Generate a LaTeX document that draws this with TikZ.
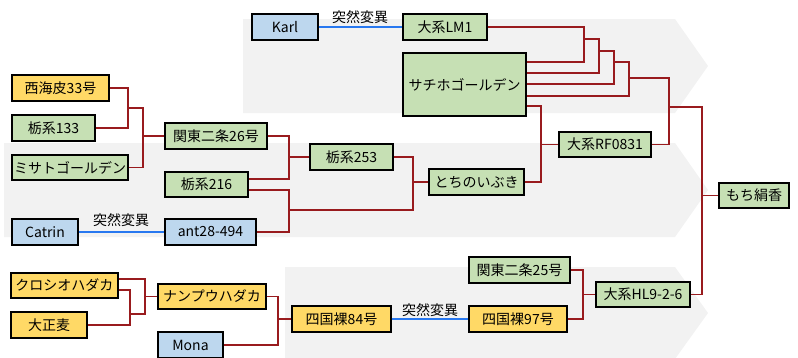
\documentclass[tikz,border=0pt]{standalone}
\usepackage{fontspec}
\setmainfont{Noto Sans CJK JP}
\definecolor{gfill}{HTML}{C6E0B4}
\definecolor{yfill}{HTML}{FFD966}
\definecolor{bfill}{HTML}{BDD7EE}
\definecolor{bgray}{HTML}{F2F2F2}
\definecolor{linered}{RGB}{153,27,30}
\definecolor{mutblue}{RGB}{40,120,240}
\tikzset{
  box/.style={draw=black, line width=1.1pt, inner sep=0pt, align=center,
    font=\fontsize{14}{16}\selectfont},
  gbox/.style={box, fill=gfill},
  ybox/.style={box, fill=yfill},
  bbox/.style={box, fill=bfill},
  conn/.style={draw=linered, line width=1.3pt},
  mut/.style={draw=mutblue, line width=1.2pt},
  lbl/.style={inner sep=0pt, font=\fontsize{14}{16}\selectfont},
  chev/.style={fill=bgray, draw=none}
}
\begin{document}
\begin{tikzpicture}[x=1pt,y=-1pt]
\useasboundingbox (0,0) rectangle (798,357);
% background chevrons
\fill[chev] (243,19) -- (675,19) -- (708,66) -- (675,113) -- (243,113) -- cycle;
\fill[chev] (4,143) -- (675,143) -- (708,190) -- (675,237) -- (4,237) -- cycle;
\fill[chev] (285,267) -- (675,267) -- (708,313) -- (675,359) -- (285,359) -- cycle;

% nodes
\node[bbox, minimum width=66pt, minimum height=26pt] (karl) at (285,27) {Karl};
\node[gbox, minimum width=84pt, minimum height=26pt] (lm1) at (445,27) {大系LM1};
\node[gbox, minimum width=123pt, minimum height=63pt] (sachiho) at (464.5,84.5) {サチホゴールデン};
\node[ybox, minimum width=97pt, minimum height=26pt] (nishi) at (60.5,88) {西海皮33号};
\node[gbox, minimum width=83pt, minimum height=26pt] (tochi133) at (53.5,128) {栃系133};
\node[gbox, minimum width=116pt, minimum height=25pt] (misato) at (70,167.5) {ミサトゴールデン};
\node[gbox, minimum width=102pt, minimum height=26pt] (kanto26) at (216,136) {関東二条26号};
\node[gbox, minimum width=83pt, minimum height=25pt] (tochi216) at (206.5,184.5) {栃系216};
\node[bbox, minimum width=66pt, minimum height=26pt] (catrin) at (45,232) {Catrin};
\node[bbox, minimum width=91pt, minimum height=26pt] (ant) at (210.5,232) {ant28-494};
\node[gbox, minimum width=83pt, minimum height=26pt] (tochi253) at (351.5,157) {栃系253};
\node[gbox, minimum width=95pt, minimum height=26pt] (tochinoibuki) at (476.5,182) {とちのいぶき};
\node[gbox, minimum width=92pt, minimum height=25pt] (rf0831) at (605,144.5) {大系RF0831};
\node[gbox, minimum width=70pt, minimum height=25pt] (mochi) at (754,195.5) {もち絹香};
\node[gbox, minimum width=94pt, minimum height=25pt] (hl926) at (643,294.5) {大系HL9-2-6};
\node[gbox, minimum width=101pt, minimum height=26pt] (kanto25) at (519.5,270) {関東二条25号};
\node[ybox, minimum width=98pt, minimum height=26pt] (shikoku97) at (518,319) {四国裸97号};
\node[ybox, minimum width=99pt, minimum height=26pt] (shikoku84) at (341.5,319) {四国裸84号};
\node[ybox, minimum width=107pt, minimum height=25pt] (kuroshio) at (64.5,285.5) {クロシオハダカ};
\node[ybox, minimum width=76pt, minimum height=26pt] (taisho) at (49,325) {大正麦};
\node[ybox, minimum width=108pt, minimum height=25pt] (nanpu) at (212,296.5) {ナンプウハダカ};
\node[bbox, minimum width=65pt, minimum height=26pt] (mona) at (190.5,345) {Mona};

% mutation links
\draw[mut] (karl) -- (lm1);
\node[lbl] (m1) at (360,17) {突然変異};
\draw[mut] (catrin) -- (ant);
\node[lbl] (m2) at (121,220) {突然変異};
\draw[mut] (shikoku84) -- (shikoku97);
\node[lbl] (m3) at (430,310) {突然変異};

% top backcross ladder
\draw[conn] (lm1.east) -| (584,62) -- (sachiho.east |- 0,62);
\draw[conn] (584,39) -| (599,73) -- (sachiho.east |- 0,73);
\draw[conn] (599,51) -| (614,84) -- (sachiho.east |- 0,84);
\draw[conn] (614,62) -| (629,96) -- (sachiho.east |- 0,96);
\draw[conn] (629,78) -| (669,144.5) -- (rf0831.east);
\draw[conn] (669,107) -| (702,294.5) -- (hl926.east);
\draw[conn] (702,195.5) -- (mochi.west);

% sachiho x tochinoibuki
\draw[conn] (sachiho.east |- 0,106) -| (541,182) -- (tochinoibuki.east);
\draw[conn] (541,144.5) -- (rf0831.west);

% left cluster
\draw[conn] (nishi.east) -| (128,128) -- (tochi133.east);
\draw[conn] (128,108) -| (143,167.5) -- (misato.east);
\draw[conn] (143,136) -- (kanto26.west);

\draw[conn] (kanto26.east) -| (289,179) -- (tochi216.east |- 0,179);
\draw[conn] (289,157) -- (tochi253.west);
\draw[conn] (tochi216.east |- 0,190) -| (289,232) -- (ant.east);
\draw[conn] (289,210) -| (413,157) -- (tochi253.east);
\draw[conn] (413,182) -- (tochinoibuki.west);

% bottom cluster
\draw[conn] (kuroshio.east |- 0,279) -| (145,314) -- (130,314);
\draw[conn] (kuroshio.east |- 0,290) -| (130,325) -- (taisho.east);
\draw[conn] (145,296.5) -- (nanpu.west);
\draw[conn] (nanpu.east) -| (278,345) -- (mona.east);
\draw[conn] (278,319) -- (shikoku84.west);
\draw[conn] (kanto25.east) -| (583,319) -- (shikoku97.east);
\draw[conn] (583,294.5) -- (hl926.west);
\end{tikzpicture}
\end{document}
